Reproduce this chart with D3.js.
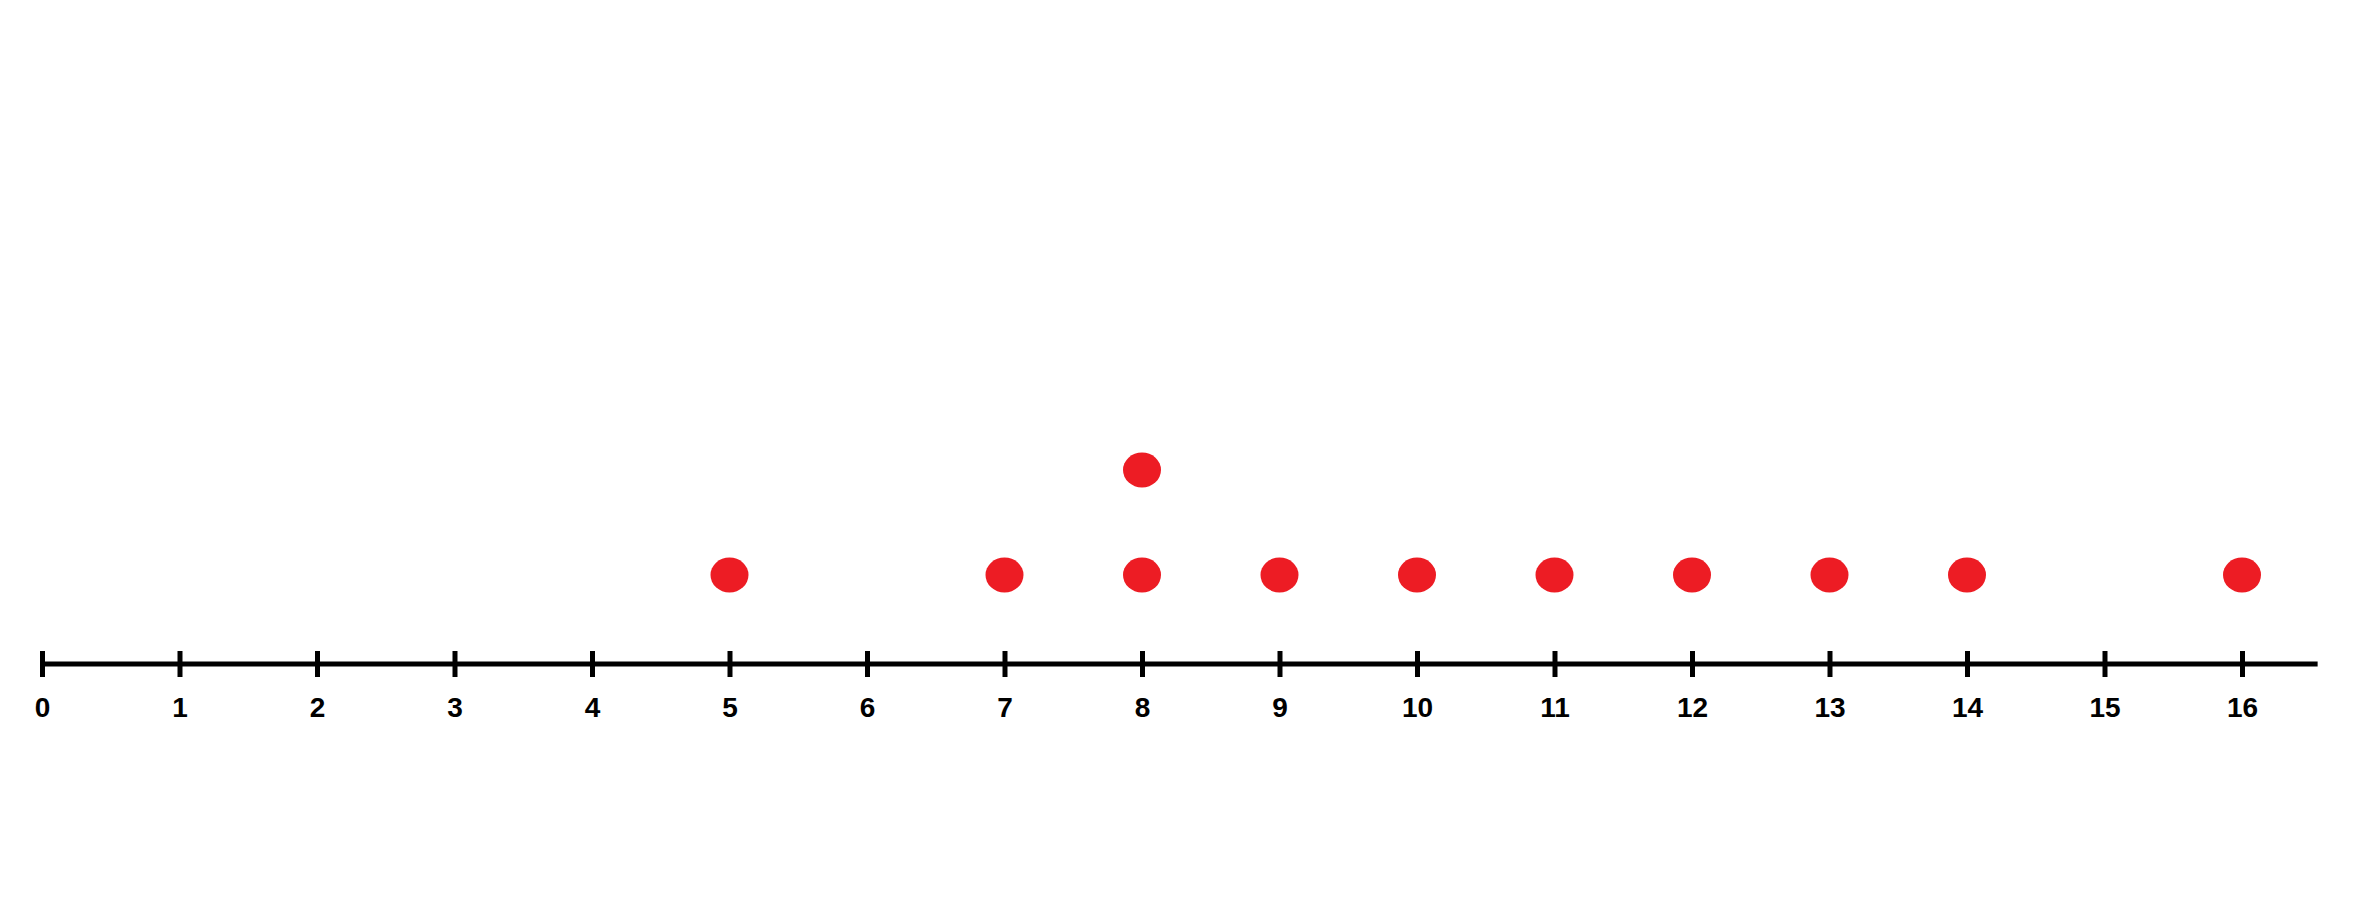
<!DOCTYPE html>
<html>
<head>
<meta charset="utf-8">
<script src="https://cdn.jsdelivr.net/npm/d3@7"></script>
<style>
  body { margin: 0; background: #ffffff; }
  svg { display: block; }
</style>
</head>
<body>
<div id="dot-plot"></div>
<script>
// Tick labels along the number line
var tickValues = [0, 1, 2, 3, 4, 5, 6, 7, 8, 9, 10, 11, 12, 13, 14, 15, 16];

// One entry per dot (values repeated when they stack)
var observations = [5, 7, 8, 8, 9, 10, 11, 12, 13, 14, 16];

var width = 2368;
var height = 924;
var axisY = 664;

var svg = d3.select("#dot-plot")
    .append("svg")
    .attr("width", width)
    .attr("height", height);

// x scale for the number line
var x = d3.scaleLinear()
    .domain([0, 16])
    .range([42, 2242]);

// y scale for the stack level of each dot
var y = d3.scaleLinear()
    .domain([0, 2])
    .range([680, 470]);

// Work out how high each dot sits in its stack
var counts = {};
var dots = observations.map(function (v) {
    counts[v] = (counts[v] || 0) + 1;
    return { value: v, level: counts[v] };
});

// Main line
svg.append("line")
    .attr("x1", x(0))
    .attr("x2", x(16.55))
    .attr("y1", axisY)
    .attr("y2", axisY)
    .attr("stroke", "#000")
    .attr("stroke-width", 5);

// Ticks and labels
var axis = d3.axisBottom(x)
    .tickValues(tickValues)
    .tickFormat(d3.format("d"))
    .tickSize(13)
    .tickPadding(20);

var g = svg.append("g")
    .attr("transform", "translate(0," + axisY + ")")
    .call(axis);

g.select(".domain").remove();
g.selectAll(".tick line")
    .attr("y1", -13)
    .attr("y2", 13)
    .attr("stroke", "#000")
    .attr("stroke-width", 5);
g.selectAll(".tick text")
    .attr("fill", "#000")
    .style("font-family", "'Liberation Sans Narrow', 'Liberation Sans', Arial, sans-serif")
    .style("font-weight", "bold")
    .style("font-size", "28px");

// Dots
svg.selectAll("ellipse.dot")
    .data(dots)
    .enter()
    .append("ellipse")
    .attr("class", "dot")
    .attr("cx", function (d) { return x(d.value); })
    .attr("cy", function (d) { return y(d.level); })
    .attr("rx", 19)
    .attr("ry", 17.5)
    .attr("fill", "#ed1c24");
</script>
</body>
</html>
